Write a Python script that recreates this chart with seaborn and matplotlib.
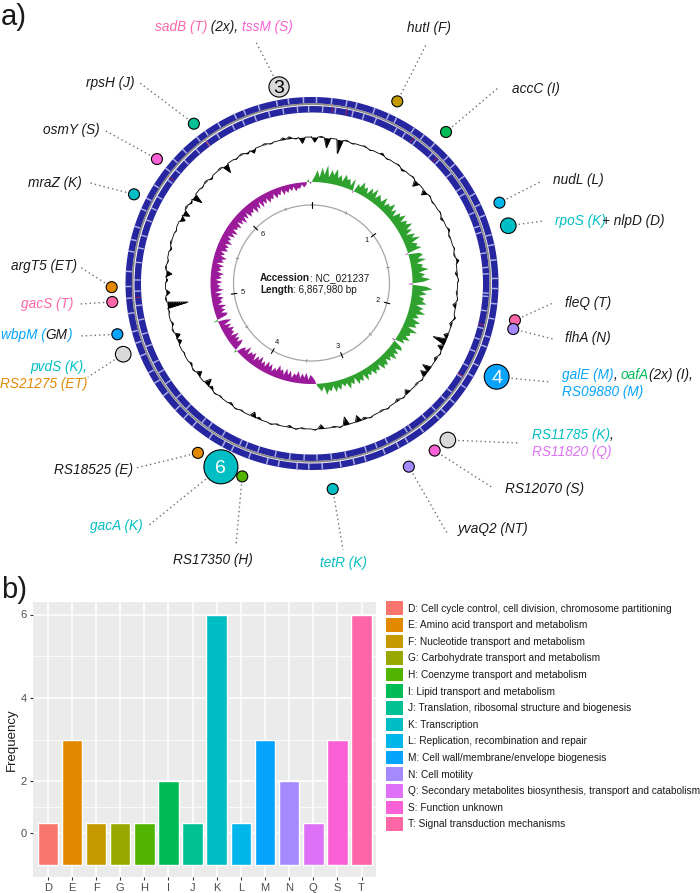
import numpy as np
import seaborn as sns
import matplotlib.pyplot as plt
from matplotlib.patches import Patch

# --- painel b): frequencia das categorias COG ---
cog_letters = ['D', 'E', 'F', 'G', 'H', 'I', 'J', 'K', 'L', 'M', 'N', 'Q', 'S', 'T']
cog_counts = [1, 3, 1, 1, 1, 2, 1, 6, 1, 3, 2, 1, 3, 6]
cog_names = [
    'D: Cell cycle control, cell division, chromosome partitioning',
    'E: Amino acid transport and metabolism',
    'F: Nucleotide transport and metabolism',
    'G: Carbohydrate transport and metabolism',
    'H: Coenzyme transport and metabolism',
    'I: Lipid transport and metabolism',
    'J: Translation, ribosomal structure and biogenesis',
    'K: Transcription',
    'L: Replication, recombination and repair',
    'M: Cell wall/membrane/envelope biogenesis',
    'N: Cell motility',
    'Q: Secondary metabolites biosynthesis, transport and catabolism',
    'S: Function unknown',
    'T: Signal transduction mechanisms',
]
cog_colors = ['#F8766D', '#E38900', '#C49A00', '#99A800', '#53B400', '#00BC56', '#00C094',
              '#00BFC4', '#00B6EB', '#06A4FF', '#A58AFF', '#DF70F8', '#FB61D7', '#FF66A8']
ytick_pos = [0.75, 2, 4, 6]
ytick_labels = ['0', '2', '4', '6']

# --- painel a): mapa circular do genoma ---
accession = 'NC_021237'
genome_len = 6.867980  # Mb
length_txt = '6,867,980 bp'

# GC skew em 288 janelas (positivo = verde, negativo = roxo)
gc_skew = [
    2, 6, 12, 5, 15, 8, 18, 6, 14, 9, 16, 7,
    11, 5, 13, 8, 10, 4, 12, -3, 9, 6, 13, 7,
    10, 4, 12, 7, 14, 5, 11, 8, 6, 13, 5, 10,
    8, 14, 6, 11, 4, 12, 9, 15, 7, 13, 10, 16,
    8, 13, 5, 14, 9, 17, 7, 12, 10, 15, -4, 11,
    14, 8, 16, 6, 12, 10, 17, 7, 13, 9, 18, 11,
    -5, 14, 20, 9, 15, 7, 13, 11, 16, 6, 14, 10,
    17, 8, 12, 6, 15, 10, 13, 5, 16, 9, 11, 7,
    13, 6, 10, -4, 9, 12, 5, 11, 7, 13, 6, 10,
    5, 11, 8, 12, 4, 10, 7, 11, 5, 9, 6, 12,
    4, 10, 7, 11, 3, 9, 6, 12, 5, 8, 4, 10,
    6, 11, 4, 9, 7, 12, 3, 8, 5, 2, -4, -7,
    -9, -4, -11, -6, -10, -5, -12, -7, -9, -4, -11, -6,
    -12, -5, -10, -8, -13, -6, -9, -4, -11, -7, -12, -5,
    -10, -6, -13, -7, -11, -4, -12, -8, -10, -5, -13, -6,
    -9, -5, 4, -8, -12, -6, -11, -7, -13, -5, -10, -8,
    -12, -6, -11, -4, -13, -8, 5, -10, -12, -6, -11, -7,
    -13, -5, -10, -8, -12, -6, -11, -4, -13, -7, -10, -6,
    -12, -5, -11, -8, -13, -6, -10, -7, -12, -4, -11, -8,
    -13, -6, -10, -5, -12, -8, -11, -6, -13, -7, -10, -5,
    -12, -7, -13, -6, -10, -8, -12, -5, -11, -7, -13, -6,
    -11, -5, -12, -8, -10, -6, -13, -7, -11, -4, -12, -6,
    -10, -5, -11, -7, -9, -4, -10, -6, -8, -3, -9, -5,
    -8, -4, -7, -3, -8, -5, -6, -2, -5, -3, 3, -2,
]
# conteudo GC (desvio da media) em 144 janelas
gc_content = [
    -5, 1, -10, 0, -14, 1, -1, 0, 1, -1, 0, 2,
    -1, 0, 1, -2, 0, 1, -6, 0, -5, 1, -1, 0,
    1, -2, 0, 2, -1, 0, 1, -1, 3, 0, -2, 1,
    0, -1, 1, -3, 0, 2, -2, 0, -4, -13, -5, 1,
    -2, 0, -8, -6, 1, -1, 0, -4, 1, -2, 0, 1,
    -1, 0, 1, -2, -6, 0, -8, 1, -1, 0, -4, 1,
    0, -1, 1, -2, 0, -1, 1, 0, -2, -5, 0, -1,
    1, -2, 0, -1, 1, -3, -7, 0, -5, 1, -2, 0,
    -1, 0, -4, -5, 1, -2, 0, -1, -21, 1, -4, 0,
    -2, -6, 1, -1, 0, -2, 1, 0, -1, 0, -5, -7,
    1, -2, -10, 0, -1, 1, -2, 0, 1, -9, 0, -1,
    1, -2, -4, 0, 1, -1, 0, 2, 2, -1, -6, 0,
]
# intervalos entre genes (Mb) nas fitas + e -
fwd_gaps = [0.03, 0.12, 0.21, 0.27, 0.38, 0.47, 0.52, 0.64, 0.71, 0.79, 0.90, 0.96, 1.05,
            1.17, 1.24, 1.31, 1.43, 1.49, 1.58, 1.69, 1.75, 1.84, 1.93, 2.04, 2.10, 2.22,
            2.29, 2.37, 2.48, 2.56, 2.61, 2.73, 2.84, 2.90, 2.99, 3.11, 3.18, 3.26, 3.37,
            3.45, 3.52, 3.63, 3.70, 3.81, 3.92, 3.98, 4.07, 4.19, 4.26, 4.33, 4.44, 4.53,
            4.60, 4.71, 4.79, 4.86, 4.97, 5.06, 5.13, 5.22, 5.34, 5.41, 5.49, 5.60, 5.67,
            5.76, 5.88, 5.95, 6.03, 6.14, 6.20, 6.29, 6.40, 6.46, 6.55, 6.66, 6.73, 6.82]
rev_gaps = [0.07, 0.15, 0.26, 0.33, 0.41, 0.55, 0.61, 0.69, 0.82, 0.88, 0.99, 1.10, 1.14,
            1.27, 1.36, 1.40, 1.53, 1.62, 1.66, 1.78, 1.80, 1.89, 2.00, 2.07, 2.15, 2.25,
            2.33, 2.44, 2.50, 2.59, 2.67, 2.78, 2.81, 2.95, 3.02, 3.09, 3.22, 3.31, 3.40,
            3.48, 3.57, 3.66, 3.77, 3.85, 3.89, 4.01, 4.11, 4.16, 4.29, 4.38, 4.49, 4.57,
            4.64, 4.75, 4.83, 4.92, 5.01, 5.10, 5.17, 5.28, 5.37, 5.45, 5.55, 5.63, 5.71,
            5.83, 5.91, 5.99, 6.09, 6.17, 6.25, 6.36, 6.43, 6.51, 6.60, 6.69, 6.78, 6.85]
rna_pos = [0.13, 0.22, 0.67, 0.86, 1.98, 2.32, 5.06, 5.85, 6.17]

# genes marcados (bolhas)
hit_pos = [6.675, 0.458, 0.769, 1.250, 1.383, 1.898, 1.946, 2.219, 2.652, 2.743, 2.907,
           3.337, 3.959, 3.833, 4.104, 4.781, 4.893, 5.069, 5.149, 5.668, 5.895, 6.171]
hit_count = [3, 1, 1, 1, 2, 1, 1, 4, 2, 1, 1, 1, 6, 1, 1, 2, 1, 1, 1, 1, 1, 1]
hit_cog = ['mix', 'F', 'I', 'L', 'K', 'T', 'N', 'M', 'mix', 'S', 'N',
           'K', 'K', 'H', 'E', 'mix', 'M', 'T', 'E', 'K', 'S', 'J']
BLK = '#1a1a1a'
C = dict(zip(cog_letters, cog_colors))
hit_labels = [
    [[('sadB (T)', C['T']), (' (2x), ', BLK), ('tssM (S)', C['S'])]],
    [[('hutI (F)', BLK)]],
    [[('accC (I)', BLK)]],
    [[('nudL (L)', BLK)]],
    [[('rpoS (K)', C['K']), ('+ nlpD (D)', BLK)]],
    [[('fleQ (T)', BLK)]],
    [[('flhA (N)', BLK)]],
    [[('galE (M)', C['M']), (', ', BLK), ('oafA', C['I']), ('(2x) (I),', BLK)],
     [('RS09880 (M)', C['M'])]],
    [[('RS11785 (K)', C['K']), (',', BLK)], [('RS11820 (Q)', C['Q'])]],
    [[('RS12070 (S)', BLK)]],
    [[('yvaQ2 (NT)', BLK)]],
    [[('tetR (K)', C['K'])]],
    [[('gacA (K)', C['K'])]],
    [[('RS17350 (H)', BLK)]],
    [[('RS18525 (E)', BLK)]],
    [[('pvdS (K),', C['K'])], [('RS21275 (ET)', C['E'])]],
    [[('wbpM (', C['M']), ('GM', BLK), (')', C['M'])]],
    [[('gacS (T)', C['T'])]],
    [[('argT5 (ET)', BLK)]],
    [[('mraZ (K)', BLK)]],
    [[('osmY (S)', BLK)]],
    [[('rpsH (J)', BLK)]],
]

# posicao dos rotulos (pixels): x, y, alinhamento, ponta da linha pontilhada
label_layout = [
    (155, 27, 'left', (256, 42)), (407, 28, 'left', (427, 43)),
    (512, 89, 'left', (498, 88)), (553, 180, 'left', (542, 181)),
    (555, 221, 'left', (543, 221)), (565, 303, 'left', (553, 303)),
    (565, 338, 'left', (553, 339)), (562, 375, 'left', (550, 382)),
    (532, 435, 'left', (520, 443)), (505, 489, 'left', (493, 488)),
    (458, 529, 'left', (447, 533)), (343, 563, 'center', (343, 550)),
    (143, 526, 'right', (148, 526)), (213, 560, 'center', (236, 545)),
    (133, 470, 'right', (136, 468)), (87, 367, 'right', (88, 377)),
    (72, 335, 'right', (80, 336)), (73, 304, 'right', (80, 304)),
    (77, 266, 'right', (80, 267)), (82, 183, 'right', (90, 183)),
    (100, 130, 'right', (104, 130)), (135, 83, 'right', (140, 83)),
]

# --- figura ---
sns.set_theme(style='white')
plt.rcParams['font.family'] = ['Liberation Sans', 'DejaVu Sans']
W, H = 700, 893
fig = plt.figure(figsize=(W / 100, H / 100), dpi=100)


def polar_axes(cx, cy, R=290):
    ax = fig.add_axes([(cx - R) / W, (H - cy - R) / H, 2 * R / W, 2 * R / H], projection='polar')
    ax.set_theta_zero_location('N')
    ax.set_theta_direction(-1)
    ax.set_ylim(0, R)
    ax.set_axis_off()
    return ax


def mb2th(x):
    return 2 * np.pi * np.asarray(x) / genome_len


def spikes(vals, base):
    # cada janela vira um pico que parte da linha de base
    n = len(vals)
    th = np.empty(2 * n + 1)
    th[0::2] = np.arange(n + 1) / n * 2 * np.pi
    th[1::2] = (np.arange(n) + 0.5) / n * 2 * np.pi
    r = np.full(2 * n + 1, float(base))
    r[1::2] = base + np.asarray(vals, float)
    return th, r


ax_r = polar_axes(311.5, 283)
full = np.linspace(0, 2 * np.pi, 721)
band = '#2626a0'
ax_r.fill_between(full, 180, 186.5, color=band, lw=0)
ax_r.fill_between(full, 171, 177.5, color=band, lw=0)
ax_r.bar(mb2th(fwd_gaps), 6.5, width=mb2th(0.009), bottom=180, color='#c4c4f0', alpha=0.85, lw=0)
ax_r.bar(mb2th(rev_gaps), 6.5, width=mb2th(0.009), bottom=171, color='#c4c4f0', alpha=0.85, lw=0)
ax_r.bar(mb2th(rna_pos), 6.0, width=mb2th(0.005), bottom=171.5, color='#c0203a', lw=0)
ax_r.plot(full, np.full_like(full, 178.8), color='#8c8c8c', lw=1.3)

# conteudo GC (preto)
th_g, r_g = spikes(gc_content, 146)
ax_r.fill_between(th_g, 146, r_g, color='black', lw=0)
ax_r.plot(th_g, r_g, color='black', lw=0.6)

# GC skew (verde / roxo)
n = len(gc_skew)
th = (np.arange(n) + 0.5) / n * 2 * np.pi
th_c = np.append(th, th[0] + 2 * np.pi)
sk = np.append(gc_skew, gc_skew[0]).astype(float)
ax_r.fill_between(th_c, 101, 101 + sk, where=sk >= 0, interpolate=True, color='#2ea12e', lw=0)
ax_r.fill_between(th_c, 101, 101 + sk, where=sk <= 0, interpolate=True, color='#9a1a9a', lw=0)

# escala interna (Mb)
ax_r.plot(full, np.full_like(full, 78), color='#a6a6a6', lw=0.9)
for k in range(7):
    t = mb2th(k)
    ax_r.plot([t, t], [75.5, 81], color='black', lw=0.8)
    ax_r.plot([mb2th(k + 0.5)] * 2, [76.5, 79.5], color='#808080', lw=0.6)
    if k > 0:
        ax_r.text(t, 69, str(k), fontsize=5.5, ha='center', va='center', color=BLK)

# bolhas
ax_b = polar_axes(314.7, 286.8)
hit_r = 203
rad_px = 5.5 + 2.3 * (np.array(hit_count) - 1)
hit_colors = ['#D9D9D9' if c == 'mix' else C[c] for c in hit_cog]
ax_b.scatter(mb2th(hit_pos), np.full(len(hit_pos), hit_r), s=(2 * rad_px * 0.72) ** 2,
             c=hit_colors, edgecolors='black', linewidths=0.8, zorder=3, clip_on=False)
for p, cnt, col in zip(hit_pos, hit_count, hit_colors):
    if cnt >= 3:
        ax_b.text(mb2th(p), hit_r, str(cnt), fontsize=14, ha='center', va='center_baseline',
                  color='black' if col == '#D9D9D9' else 'white', zorder=4)

# camada de texto em pixels
ax_o = fig.add_axes([0, 0, 1, 1])
ax_o.set_xlim(0, W)
ax_o.set_ylim(H, 0)
ax_o.set_axis_off()
ax_o.set_zorder(5)

TXT = dict(fontsize=9.8, fontstyle='italic')


def draw_line(ax, x, y, pieces, ha, weights=None, **kw):
    weights = weights or ['normal'] * len(pieces)
    if ha == 'right':
        prev = ax.text(x, y, pieces[-1][0], color=pieces[-1][1], ha='right', va='center',
                       fontweight=weights[-1], **kw)
        for (txt, col), w in zip(pieces[-2::-1], weights[-2::-1]):
            prev = ax.annotate(txt, xy=(0, 0), xycoords=prev, ha='right', va='bottom', color=col,
                               fontweight=w, **kw)
        return
    prev = ax.text(x, y, pieces[0][0], color=pieces[0][1], ha=ha, va='center',
                   fontweight=weights[0], **kw)
    for (txt, col), w in zip(pieces[1:], weights[1:]):
        off = -3 if txt.startswith('+') else 0
        prev = ax.annotate(txt, xy=(1, 0), xycoords=prev, xytext=(off, 0), textcoords='offset points',
                           ha='left', va='bottom', color=col, fontweight=w, **kw)


fig.canvas.draw()
inv = ax_o.transData.inverted()
for i, lines in enumerate(hit_labels):
    x, y, ha, (ex, ey) = label_layout[i]
    for j, pieces in enumerate(lines):
        draw_line(ax_o, x, y + 17 * j, pieces, ha, **TXT)
    bx, by = inv.transform(ax_b.transData.transform((mb2th(hit_pos[i]), hit_r)))
    d = np.hypot(ex - bx, ey - by)
    f = (rad_px[i] + 2.5) / d
    ax_o.plot([bx + (ex - bx) * f, ex], [by + (ey - by) * f, ey], color='#6e6e6e', lw=1.0,
              ls=(0, (1, 2.2)))

# texto central
draw_line(ax_o, 260, 278, [('Accession', BLK), (': ' + accession, BLK)], 'left',
          weights=['bold', 'normal'], fontsize=7.2)
draw_line(ax_o, 260, 290, [('Length', BLK), (': ' + length_txt, BLK)], 'left',
          weights=['bold', 'normal'], fontsize=7.2)

ax_o.text(1, 17, 'a)', fontsize=21, va='center', ha='left', color=BLK)
ax_o.text(1, 590, 'b)', fontsize=21, va='center', ha='left', color=BLK)

# --- painel b) ---
ax_bar = fig.add_axes([33.3 / W, (H - 877) / H, 342.7 / W, 275 / H])
sns.barplot(x=cog_letters, y=cog_counts, hue=cog_letters, palette=cog_colors, saturation=1,
            width=0.85, legend=False, ax=ax_bar)
ax_bar.set_facecolor('#EBEBEB')
for s in ax_bar.spines.values():
    s.set_visible(False)
ax_bar.set_xlim(-0.6, 13.6)
ax_bar.set_ylim(-0.3, 6.3)
ax_bar.set_yticks(ytick_pos, ytick_labels)
ax_bar.set_yticks([(a + b) / 2 for a, b in zip(ytick_pos[:-1], ytick_pos[1:])], minor=True)
ax_bar.grid(which='major', color='white', lw=1.1)
ax_bar.grid(which='minor', axis='y', color='white', lw=0.55)
ax_bar.set_axisbelow(True)
ax_bar.tick_params(which='major', bottom=True, left=True, length=2.5, width=0.8, color='#333333',
                   labelcolor='#4D4D4D', labelsize=8, pad=2)
ax_bar.tick_params(which='minor', length=0)
ax_bar.set_ylabel('Frequency', fontsize=9.5, labelpad=2, color=BLK)
ax_bar.set_xlabel('')

handles = [Patch(facecolor=c, edgecolor='none') for c in cog_colors]
fig.legend(handles, cog_names, loc='upper left', bbox_to_anchor=(386 / W, 1 - 601.5 / H),
           frameon=False, fontsize=7.3, handlelength=1.68, handleheight=1.68, labelspacing=0.3,
           handletextpad=0.52, borderpad=0, borderaxespad=0, labelcolor=BLK)

plt.savefig('out.png', dpi=100)
